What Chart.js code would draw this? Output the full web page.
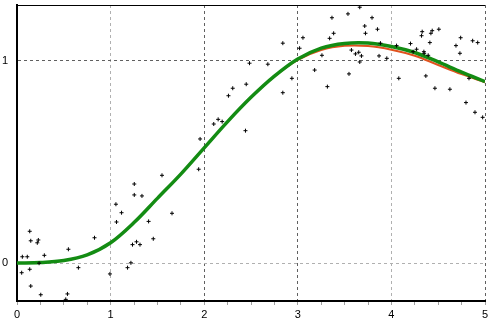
<!DOCTYPE html>
<html>
<head>
<meta charset="utf-8">
<script src="https://cdn.jsdelivr.net/npm/chart.js@4/dist/chart.umd.min.js"></script>
<style>
  html, body { margin: 0; padding: 0; background: #fff; }
  #wrap { width: 490px; height: 323px; }
</style>
</head>
<body>
<div id="wrap"><canvas id="fitChart" width="490" height="323"></canvas></div>
<script>
// measured points (x, y)
const sampleX = [0.057, 0.110, 0.136, 0.147, 0.228, 0.217, 0.050, 0.136, 0.147, 0.254,
  0.292, 0.236, 0.549, 0.539, 0.521, 0.656, 0.828, 0.993, 1.057, 1.063,
  1.117, 1.181, 1.217, 1.234, 1.277, 1.314, 1.253, 1.253, 1.335, 1.406,
  1.456, 1.549, 1.656, 1.941, 1.956, 2.102, 2.149, 2.192, 2.259, 2.305,
  2.449, 2.484, 2.680, 2.441, 2.840, 2.840, 2.937, 3.019, 3.055, 3.180,
  3.258, 3.316, 3.340, 3.383, 3.365, 3.536, 3.547, 3.573, 3.616, 3.651,
  3.680, 3.662, 3.662, 3.715, 3.723, 3.793, 3.851, 3.868, 3.883, 3.951,
  4.055, 4.079, 4.204, 4.232, 4.269, 4.322, 4.329, 4.347, 4.350, 4.368,
  4.393, 4.411, 4.422, 4.436, 4.507, 4.465, 4.625, 4.690, 4.732, 4.740,
  4.797, 4.868, 4.922, 4.893, 4.975, 4.829];
const sampleY = [0.031, 0.031, 0.157, 0.110, 0.114, 0.100, -0.048, -0.031, -0.114, -0.157,
  0.038, -0.001, 0.068, -0.153, -0.180, -0.023, 0.125, -0.054, 0.291, 0.203,
  0.249, -0.023, 0.001, 0.091, 0.105, 0.091, 0.391, 0.337, 0.332, 0.206,
  0.120, 0.434, 0.246, 0.464, 0.614, 0.688, 0.711, 0.700, 0.828, 0.865,
  0.885, 0.989, 0.984, 0.655, 1.088, 0.843, 0.914, 1.063, 1.115, 0.955,
  1.028, 0.873, 1.112, 1.137, 1.214, 1.233, 0.936, 1.054, 1.035, 1.043,
  1.025, 0.995, 1.266, 1.173, 1.137, 1.214, 1.157, 1.025, 1.088, 1.013,
  1.076, 0.914, 1.086, 1.046, 1.058, 1.125, 1.145, 1.046, 1.038, 0.926,
  1.028, 1.091, 1.137, 1.150, 1.157, 0.865, 0.860, 1.076, 1.038, 1.115,
  0.794, 1.100, 1.091, 0.746, 0.721, 0.914];

// fitted curves, read every 0.25
const curveX = [0, 0.25, 0.5, 0.75, 1, 1.25, 1.5, 1.75, 2, 2.25, 2.5,
  2.75, 3, 3.25, 3.5, 3.75, 4, 4.25, 4.5, 4.75, 5];
const greenY = [0, 0.002, 0.012, 0.04, 0.10, 0.20, 0.32, 0.44, 0.57, 0.70, 0.82,
  0.925, 1.01, 1.064, 1.087, 1.089, 1.072, 1.042, 0.995, 0.945, 0.898];
const orangeY = [0, 0.002, 0.012, 0.04, 0.10, 0.20, 0.32, 0.44, 0.57, 0.70, 0.82,
  0.923, 1.005, 1.054, 1.075, 1.074, 1.056, 1.026, 0.980, 0.935, 0.895];

const xTicks = [0, 1, 2, 3, 4, 5];
const yTicks = [0, 1];

const pts = sampleX.map((x, i) => ({ x: x, y: sampleY[i] }));
const green = curveX.map((x, i) => ({ x: x, y: greenY[i] }));
const orange = curveX.map((x, i) => ({ x: x, y: orangeY[i] }));

const lightX = [1, 4];
const lightY = [0];

const topBorder = {
  id: "topBorder",
  afterDraw(chart) {
    const a = chart.chartArea;
    const c = chart.ctx;
    c.save();
    c.strokeStyle = "#000";
    c.lineWidth = 1;
    c.beginPath();
    c.moveTo(a.left, a.top + 0.5);
    c.lineTo(a.right, a.top + 0.5);
    c.stroke();
    c.restore();
  }
};

new Chart(document.getElementById("fitChart"), {
  type: "scatter",
  data: {
    datasets: [
      {
        type: "scatter",
        data: pts,
        pointStyle: "cross",
        pointRadius: 2,
        borderColor: "#000",
        backgroundColor: "#000",
        borderWidth: 1
      },
      {
        type: "line",
        data: green,
        borderColor: "#138c13",
        borderWidth: 3.5,
        pointRadius: 0,
        fill: false,
        tension: 0.35
      },
      {
        type: "line",
        data: orange,
        borderColor: "#e0521e",
        borderWidth: 2,
        pointRadius: 0,
        fill: false,
        tension: 0.35
      }
    ]
  },
  options: {
    responsive: false,
    devicePixelRatio: 1,
    animation: false,
    layout: { padding: { top: 5, right: 5, left: 0, bottom: 0 } },
    plugins: { legend: { display: false }, tooltip: { enabled: false } },
    scales: {
      x: {
        type: "linear",
        min: 0,
        max: 5,
        afterFit: s => {
          s.height = 22;
          s.paddingLeft = 0;
          s.paddingRight = 0;
        },
        ticks: {
          stepSize: 0.25,
          autoSkip: false,
          maxRotation: 0,
          padding: 3,
          color: "#000",
          font: { family: "Liberation Sans, Arial", size: 11 },
          callback: v => (xTicks.includes(v) ? String(v) : "")
        },
        grid: {
          color: c => {
            const v = c.tick ? c.tick.value : null;
            if (!xTicks.includes(v)) return "rgba(0,0,0,0)";
            return lightX.includes(v) ? "#b0b0b0" : "#606060";
          },
          tickColor: "#a0a0a0",
          tickLength: 4,
          tickBorderDash: []
        },
        border: { display: true, color: "#000", width: 2, dash: [3, 3] }
      },
      y: {
        min: -0.188,
        max: 1.277,
        afterFit: s => {
          s.width = 17;
          s.paddingTop = 0;
          s.paddingBottom = 0;
        },
        afterBuildTicks: s => { s.ticks = yTicks.map(v => ({ value: v })); },
        ticks: {
          padding: 9,
          color: "#000",
          font: { family: "Liberation Sans, Arial", size: 11 }
        },
        grid: {
          drawTicks: false,
          color: c => (c.tick && lightY.includes(c.tick.value) ? "#b0b0b0" : "#606060")
        },
        border: { display: true, color: "#000", width: 2, dash: [3, 3] }
      }
    }
  },
  plugins: [topBorder]
});
</script>
</body>
</html>
